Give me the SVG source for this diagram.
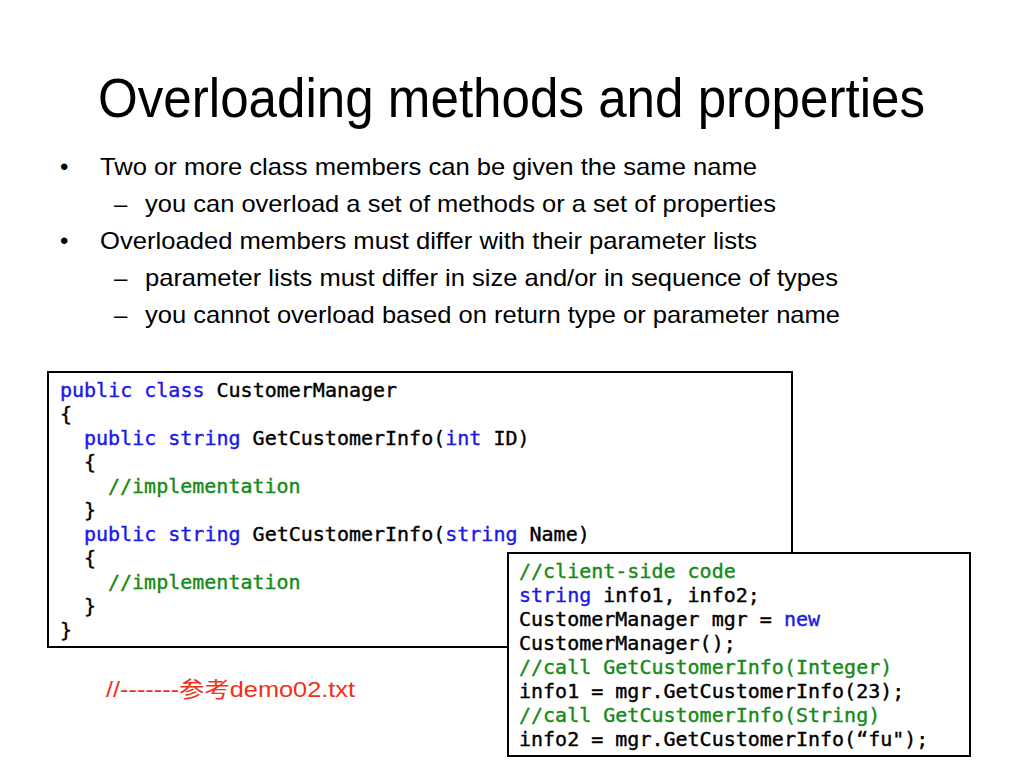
<svg xmlns="http://www.w3.org/2000/svg" width="1024" height="768" viewBox="0 0 1024 768">
<style>
.title{font-family:"Liberation Sans",Arial,sans-serif;font-size:55px;fill:#000}
.body{font-family:"Liberation Sans",Arial,sans-serif;font-size:24px;fill:#000}
.code{font-family:"DejaVu Sans Mono","Liberation Mono",monospace;font-size:20px;fill:#000;stroke:#000;stroke-width:0.4}
.kw{fill:#1a1ae6;stroke:#1a1ae6}
.cm{fill:#178a17;stroke:#178a17}
.box{fill:#fff;stroke:#000;stroke-width:2}
.note{font-family:"Liberation Sans","Noto Sans CJK SC",sans-serif;font-size:22px;fill:#f03018}
</style>
<rect width="1024" height="768" fill="#fff"/>
<g id="title">
<text class="title" x="98" y="117" textLength="827" lengthAdjust="spacingAndGlyphs">Overloading methods and properties</text>
</g>
<g id="bullets">
<text class="body" x="60" y="175">•</text>
<text class="body" x="100" y="175" textLength="657" lengthAdjust="spacingAndGlyphs">Two or more class members can be given the same name</text>
<text class="body" x="114" y="212">–</text>
<text class="body" x="145" y="212" textLength="631" lengthAdjust="spacingAndGlyphs">you can overload a set of methods or a set of properties</text>
<text class="body" x="60" y="249">•</text>
<text class="body" x="100" y="249" textLength="657" lengthAdjust="spacingAndGlyphs">Overloaded members must differ with their parameter lists</text>
<text class="body" x="114" y="286">–</text>
<text class="body" x="145" y="286" textLength="693" lengthAdjust="spacingAndGlyphs">parameter lists must differ in size and/or in sequence of types</text>
<text class="body" x="114" y="323">–</text>
<text class="body" x="145" y="323" textLength="695" lengthAdjust="spacingAndGlyphs">you cannot overload based on return type or parameter name</text>
</g>
<g id="class-code">
<rect class="box" x="48" y="372" width="744" height="275"/>
<text class="code" x="60" y="397"><tspan class="kw">public class</tspan> CustomerManager</text>
<text class="code" x="60" y="421">{</text>
<text class="code" x="84" y="445"><tspan class="kw">public string</tspan> GetCustomerInfo(<tspan class="kw">int</tspan> ID)</text>
<text class="code" x="84" y="469">{</text>
<text class="code cm" x="108" y="493">//implementation</text>
<text class="code" x="84" y="517">}</text>
<text class="code" x="84" y="541"><tspan class="kw">public string</tspan> GetCustomerInfo(<tspan class="kw">string</tspan> Name)</text>
<text class="code" x="84" y="565">{</text>
<text class="code cm" x="108" y="589">//implementation</text>
<text class="code" x="84" y="613">}</text>
<text class="code" x="60" y="637">}</text>
</g>
<g id="client-code">
<rect class="box" x="508" y="553" width="462" height="203"/>
<text class="code cm" x="519" y="578">//client-side code</text>
<text class="code" x="519" y="602"><tspan class="kw">string</tspan> info1, info2;</text>
<text class="code" x="519" y="626">CustomerManager mgr = <tspan class="kw">new</tspan></text>
<text class="code" x="519" y="650">CustomerManager();</text>
<text class="code cm" x="519" y="674">//call GetCustomerInfo(Integer)</text>
<text class="code" x="519" y="698">info1 = mgr.GetCustomerInfo(23);</text>
<text class="code cm" x="519" y="722">//call GetCustomerInfo(String)</text>
<text class="code" x="519" y="746">info2 = mgr.GetCustomerInfo(“fu");</text>
</g>
<g id="note">
<text class="note" x="106" y="697" textLength="249" lengthAdjust="spacingAndGlyphs">//-------参考demo02.txt</text>
</g>
<g id="connectors"/>
</svg>
